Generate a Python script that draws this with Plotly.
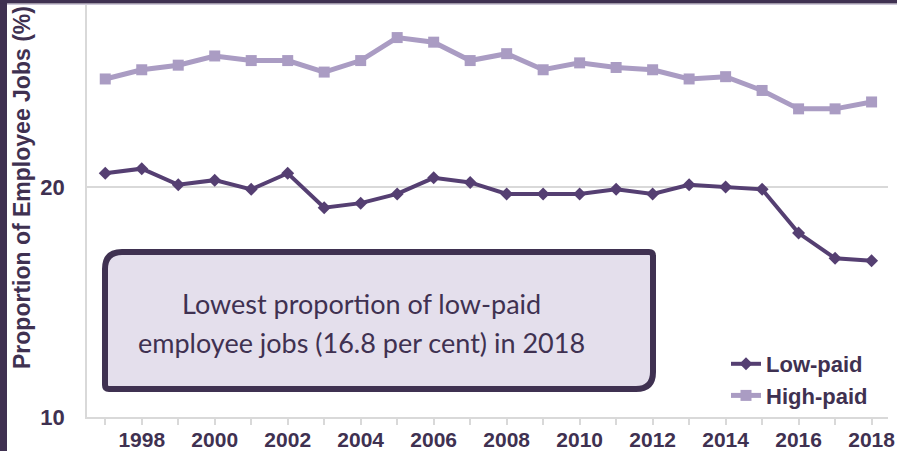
import plotly.graph_objects as go

# Survey years
years = list(range(1997, 2019))

# Proportion of employee jobs (%) by pay band
low_paid = [20.6, 20.8, 20.1, 20.3, 19.9, 20.6, 19.1, 19.3, 19.7, 20.4, 20.2,
            19.7, 19.7, 19.7, 19.9, 19.7, 20.1, 20.0, 19.9, 18.0, 16.9, 16.8]
high_paid = [24.7, 25.1, 25.3, 25.7, 25.5, 25.5, 25.0, 25.5, 26.5, 26.3, 25.5,
             25.8, 25.1, 25.4, 25.2, 25.1, 24.7, 24.8, 24.2, 23.4, 23.4, 23.7]

x_tick_years = list(range(1998, 2019, 2))
y_ticks = [10, 20]

DARK = "#3f3151"
LOW_COL = "#553f72"
HIGH_COL = "#aa9cc3"
GRID = "#d9d9d9"
BOX_FILL = "#e4dfec"

W, H = 897, 451
L, R, T, B = 87, 9, 4, 34
PW, PH = W - L - R, H - T - B


def xp(px):
    return (px - L) / PW


def yp(py):
    return (H - B - py) / PH


fig = go.Figure()

fig.add_trace(go.Scatter(
    x=years, y=low_paid, name="Low-paid", mode="lines+markers",
    line=dict(color=LOW_COL, width=4),
    marker=dict(symbol="diamond", size=10, color=LOW_COL),
    legendgroup="low",
))
fig.add_trace(go.Scatter(
    x=years, y=high_paid, name="High-paid", mode="lines+markers",
    line=dict(color=HIGH_COL, width=5),
    marker=dict(symbol="square", size=11, color=HIGH_COL),
    legendgroup="high",
))

bold = dict(family="Liberation Sans, Arial", color=DARK, weight="bold")

fig.update_xaxes(
    range=[1996.5, 2018.45],
    tickvals=x_tick_years,
    ticktext=[str(y) for y in x_tick_years],
    ticks="outside", ticklen=6, tickcolor=GRID, tickwidth=1.5,
    minor=dict(dtick=1, tick0=1997, ticks="outside", ticklen=6,
               tickcolor=GRID, tickwidth=1.5, showgrid=False),
    showline=True, linecolor=GRID, linewidth=1.5,
    showgrid=False, zeroline=False, automargin=False,
    tickfont=dict(size=21, **bold),
    ticklabelstandoff=-3,
)
fig.update_yaxes(
    range=[10, 27.96],
    tickvals=y_ticks,
    ticks="", showline=True, linecolor=GRID, linewidth=1.5,
    showgrid=True, gridcolor=GRID, gridwidth=1.5, zeroline=False,
    automargin=False,
    tickfont=dict(size=22, **bold),
    ticklabelstandoff=16,
)

shapes = [
    # frame bands
    dict(type="rect", xref="paper", yref="paper",
         x0=xp(0), x1=xp(7), y0=yp(H), y1=yp(0),
         fillcolor=DARK, line_width=0, layer="above"),
    dict(type="rect", xref="paper", yref="paper",
         x0=xp(0), x1=xp(W), y0=yp(3.5), y1=yp(0),
         fillcolor=DARK, line_width=0, layer="above"),
    dict(type="line", xref="paper", yref="paper",
         x0=xp(7), x1=xp(W), y0=yp(4.5), y1=yp(4.5),
         line=dict(color="#cdc7d8", width=1.2), layer="above"),
]

# Callout box: rounded top-left and bottom-right corners
bx0, bx1, by0, by1, rr, rs = 105, 653, 252, 389, 17, 4
path = (
    f"M {xp(bx0)},{yp(by0 + rr)} "
    f"Q {xp(bx0)},{yp(by0)} {xp(bx0 + rr)},{yp(by0)} "
    f"L {xp(bx1 - rs)},{yp(by0)} "
    f"Q {xp(bx1)},{yp(by0)} {xp(bx1)},{yp(by0 + rs)} "
    f"L {xp(bx1)},{yp(by1 - rr)} "
    f"Q {xp(bx1)},{yp(by1)} {xp(bx1 - rr)},{yp(by1)} "
    f"L {xp(bx0 + rs)},{yp(by1)} "
    f"Q {xp(bx0)},{yp(by1)} {xp(bx0)},{yp(by1 - rs)} Z"
)
shapes.append(dict(type="path", xref="paper", yref="paper", path=path,
                   fillcolor=BOX_FILL, line=dict(color=DARK, width=6),
                   layer="above"))

box_font = dict(family="Lato, Open Sans", size=27, color=DARK)
text_cx = 361
annotations = [
    dict(text="Lowest proportion of low-paid", xref="paper", yref="paper",
         x=xp(text_cx), y=yp(303), showarrow=False,
         xanchor="center", yanchor="middle", font=box_font),
    dict(text="employee jobs (16.8 per cent) in 2018", xref="paper", yref="paper",
         x=xp(text_cx), y=yp(342), showarrow=False,
         xanchor="center", yanchor="middle", font=box_font),
    dict(text="Proportion of Employee Jobs (%)", xref="paper", yref="paper",
         x=xp(22), y=yp(188), textangle=-90, showarrow=False,
         xanchor="center", yanchor="middle",
         font=dict(size=23, **bold)),
]

fig.update_layout(
    width=W, height=H,
    margin=dict(l=L, r=R, t=T, b=B, pad=0, autoexpand=False),
    paper_bgcolor="white", plot_bgcolor="white",
    shapes=shapes, annotations=annotations,
    showlegend=True,
    legend=dict(
        x=xp(726), y=yp(343), xanchor="left", yanchor="top",
        bgcolor="rgba(0,0,0,0)", tracegroupgap=0,
        font=dict(size=22, **bold),
    ),
)

fig.write_html("out.html")
